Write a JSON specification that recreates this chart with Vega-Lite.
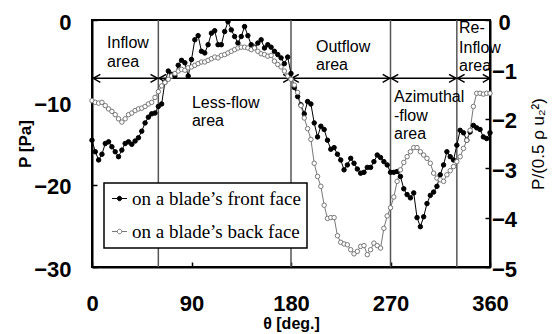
{
  "$schema": "https://vega.github.io/schema/vega-lite/v6.json",
  "width": 398,
  "height": 247,
  "autosize": {"type": "none"},
  "padding": {"left": 92, "top": 20, "right": 62, "bottom": 67},
  "config": {
    "font": "Liberation Sans",
    "view": {"stroke": "black", "strokeWidth": 2},
    "axis": {
      "grid": false,
      "domainColor": "black",
      "domainWidth": 2,
      "tickColor": "black",
      "tickWidth": 1.5,
      "tickSize": -5,
      "labelFont": "Liberation Sans",
      "labelFontSize": 22,
      "labelFontWeight": "bold",
      "labelColor": "black",
      "labelFlush": false,
      "labelOverlap": false,
      "titleColor": "black",
      "titleFont": "Liberation Sans"
    },
    "legend": {
      "orient": "none",
      "legendX": 12,
      "legendY": 163,
      "fillColor": "white",
      "strokeColor": "black",
      "strokeWidth": 1.5,
      "padding": 6,
      "labelFont": "Liberation Serif",
      "labelFontSize": 19,
      "labelColor": "black",
      "labelOffset": 3,
      "labelLimit": 400,
      "rowPadding": 13,
      "symbolSize": 225,
      "symbolStrokeWidth": 1
    }
  },
  "datasets": {
    "pressure": [
      {"theta": 0, "front": -14.6, "back": -9.8},
      {"theta": 3, "front": -16.0, "back": -10.0},
      {"theta": 6, "front": -17.0, "back": -10.1},
      {"theta": 9, "front": -16.3, "back": -10.0},
      {"theta": 12, "front": -15.0, "back": -10.4},
      {"theta": 15, "front": -14.8, "back": -10.8},
      {"theta": 18, "front": -15.4, "back": -11.1},
      {"theta": 21, "front": -16.0, "back": -11.5},
      {"theta": 24, "front": -16.6, "back": -12.0},
      {"theta": 27, "front": -15.8, "back": -12.4},
      {"theta": 30, "front": -15.0, "back": -12.0},
      {"theta": 33, "front": -14.8, "back": -11.5},
      {"theta": 36, "front": -15.1, "back": -11.3},
      {"theta": 39, "front": -14.7, "back": -11.0},
      {"theta": 42, "front": -14.3, "back": -10.8},
      {"theta": 45, "front": -13.5, "back": -10.7},
      {"theta": 48, "front": -12.5, "back": -10.5},
      {"theta": 51, "front": -11.8, "back": -10.2},
      {"theta": 54, "front": -11.4, "back": -10.0},
      {"theta": 57, "front": -11.3, "back": -9.4},
      {"theta": 60, "front": -10.5, "back": -8.7},
      {"theta": 63, "front": -10.2, "back": -8.0},
      {"theta": 66, "front": -7.5, "back": -7.6},
      {"theta": 69, "front": -6.2, "back": -7.2},
      {"theta": 72, "front": -6.6, "back": -6.8},
      {"theta": 75, "front": -6.8, "back": -6.5},
      {"theta": 78, "front": -5.5, "back": -6.2},
      {"theta": 81, "front": -4.9, "back": -6.0},
      {"theta": 84, "front": -5.2, "back": -6.1},
      {"theta": 87, "front": -6.8, "back": -5.8},
      {"theta": 90, "front": -4.8, "back": -5.7},
      {"theta": 93, "front": -2.4, "back": -5.5},
      {"theta": 96, "front": -1.9, "back": -5.3},
      {"theta": 99, "front": -3.8, "back": -5.1},
      {"theta": 102, "front": -4.0, "back": -5.1},
      {"theta": 105, "front": -3.0, "back": -4.9},
      {"theta": 108, "front": -1.6, "back": -4.7},
      {"theta": 111, "front": -1.3, "back": -4.5},
      {"theta": 114, "front": -3.0, "back": -4.6},
      {"theta": 117, "front": -3.0, "back": -4.3},
      {"theta": 120, "front": -1.4, "back": -4.2},
      {"theta": 123, "front": -0.2, "back": -4.0},
      {"theta": 126, "front": -1.2, "back": -3.8},
      {"theta": 129, "front": -2.0, "back": -3.6},
      {"theta": 132, "front": -2.8, "back": -3.4},
      {"theta": 135, "front": -2.0, "back": -3.3},
      {"theta": 138, "front": -0.8, "back": -3.3},
      {"theta": 141, "front": -1.9, "back": -3.4},
      {"theta": 144, "front": -3.0, "back": -3.6},
      {"theta": 147, "front": -3.3, "back": -3.4},
      {"theta": 150, "front": -2.8, "back": -3.8},
      {"theta": 153, "front": -2.4, "back": -4.1},
      {"theta": 156, "front": -3.4, "back": -4.2},
      {"theta": 159, "front": -3.0, "back": -4.4},
      {"theta": 162, "front": -3.3, "back": -4.3},
      {"theta": 165, "front": -3.8, "back": -5.0},
      {"theta": 168, "front": -4.2, "back": -5.4},
      {"theta": 171, "front": -4.6, "back": -5.7},
      {"theta": 174, "front": -5.3, "back": -6.2},
      {"theta": 177, "front": -4.5, "back": -6.8},
      {"theta": 180, "front": -6.5, "back": -7.2},
      {"theta": 183, "front": -8.2, "back": -7.9},
      {"theta": 186, "front": -9.3, "back": -8.8},
      {"theta": 189, "front": -10.3, "back": -10.4},
      {"theta": 192, "front": -11.4, "back": -11.9},
      {"theta": 195, "front": -9.9, "back": -13.2},
      {"theta": 198, "front": -10.2, "back": -14.5},
      {"theta": 201, "front": -12.5, "back": -17.4},
      {"theta": 204, "front": -14.2, "back": -19.0},
      {"theta": 207, "front": -12.9, "back": -20.2},
      {"theta": 210, "front": -13.3, "back": -22.5},
      {"theta": 213, "front": -14.6, "back": -24.1},
      {"theta": 216, "front": -15.7, "back": -24.0},
      {"theta": 219, "front": -15.5, "back": -24.0},
      {"theta": 222, "front": -16.3, "back": -26.2},
      {"theta": 225, "front": -17.0, "back": -27.0},
      {"theta": 228, "front": -18.2, "back": -27.2},
      {"theta": 231, "front": -17.6, "back": -27.3},
      {"theta": 234, "front": -16.8, "back": -27.9},
      {"theta": 237, "front": -17.4, "back": -28.4},
      {"theta": 240, "front": -18.1, "back": -28.1},
      {"theta": 243, "front": -18.6, "back": -27.5},
      {"theta": 246, "front": -18.5, "back": -27.4},
      {"theta": 249, "front": -17.9, "back": -28.5},
      {"theta": 252, "front": -17.9, "back": -27.9},
      {"theta": 255, "front": -17.2, "back": -27.1},
      {"theta": 258, "front": -16.4, "back": -27.4},
      {"theta": 261, "front": -16.7, "back": -27.7},
      {"theta": 264, "front": -17.2, "back": -25.3},
      {"theta": 267, "front": -17.6, "back": -23.8},
      {"theta": 270, "front": -18.5, "back": -22.8},
      {"theta": 273, "front": -18.5, "back": -21.5},
      {"theta": 276, "front": -18.4, "back": -19.6},
      {"theta": 279, "front": -19.0, "back": -18.2},
      {"theta": 282, "front": -20.5, "back": -17.3},
      {"theta": 285, "front": -21.2, "back": -16.6},
      {"theta": 288, "front": -21.6, "back": -16.0},
      {"theta": 291, "front": -21.0, "back": -15.5},
      {"theta": 294, "front": -24.0, "back": -15.5},
      {"theta": 297, "front": -25.1, "back": -16.0},
      {"theta": 300, "front": -23.9, "back": -16.4},
      {"theta": 303, "front": -22.3, "back": -16.8},
      {"theta": 306, "front": -21.3, "back": -17.4},
      {"theta": 309, "front": -20.9, "back": -18.6},
      {"theta": 312, "front": -20.2, "back": -19.2},
      {"theta": 315, "front": -18.8, "back": -19.4},
      {"theta": 318, "front": -17.6, "back": -19.6},
      {"theta": 321, "front": -16.0, "back": -18.8},
      {"theta": 324, "front": -16.6, "back": -18.3},
      {"theta": 327, "front": -17.0, "back": -17.8},
      {"theta": 330, "front": -15.2, "back": -17.2},
      {"theta": 333, "front": -13.4, "back": -16.6},
      {"theta": 336, "front": -13.7, "back": -15.6},
      {"theta": 339, "front": -14.6, "back": -14.6},
      {"theta": 342, "front": -13.6, "back": -13.4},
      {"theta": 345, "front": -12.8, "back": -10.5},
      {"theta": 348, "front": -13.1, "back": -8.9},
      {"theta": 351, "front": -13.3, "back": -8.9},
      {"theta": 354, "front": -14.2, "back": -9.0},
      {"theta": 357, "front": -14.4, "back": -8.9},
      {"theta": 360, "front": -13.7, "back": -8.9}
    ],
    "boundaries": [
      {"theta": 60}, {"theta": 180}, {"theta": 270}, {"theta": 330}
    ],
    "spans": [
      {"theta": 1.2, "theta2": 59.3, "P": -7.09},
      {"theta": 60.7, "theta2": 179.3, "P": -7.09},
      {"theta": 180.7, "theta2": 269.3, "P": -7.09},
      {"theta": 270.7, "theta2": 329.3, "P": -7.09},
      {"theta": 330.7, "theta2": 359.8, "P": -7.09}
    ],
    "heads": [
      {"theta": 1.2, "P": -7.09, "dir": "L"},
      {"theta": 59.3, "P": -7.09, "dir": "R"},
      {"theta": 60.7, "P": -7.09, "dir": "L"},
      {"theta": 179.3, "P": -7.09, "dir": "R"},
      {"theta": 180.7, "P": -7.09, "dir": "L"},
      {"theta": 269.3, "P": -7.09, "dir": "R"},
      {"theta": 270.7, "P": -7.09, "dir": "L"},
      {"theta": 329.3, "P": -7.09, "dir": "R"},
      {"theta": 330.7, "P": -7.09, "dir": "L"},
      {"theta": 359.8, "P": -7.09, "dir": "R"}
    ],
    "regions": [
      {"theta": 13.6, "P": -3.4, "t": "Inflow"},
      {"theta": 13.6, "P": -5.71, "t": "area"},
      {"theta": 90.4, "P": -10.7, "t": "Less-flow"},
      {"theta": 90.4, "P": -12.9, "t": "area"},
      {"theta": 202.6, "P": -3.85, "t": "Outflow"},
      {"theta": 202.6, "P": -6.07, "t": "area"},
      {"theta": 273.2, "P": -9.92, "t": "Azimuthal"},
      {"theta": 273.2, "P": -12.23, "t": "-flow"},
      {"theta": 273.2, "P": -14.49, "t": "area"},
      {"theta": 332.0, "P": -1.62, "t": "Re-"},
      {"theta": 332.0, "P": -3.97, "t": "Inflow"},
      {"theta": 332.0, "P": -6.19, "t": "area"}
    ]
  },
  "layer": [
    {
      "layer": [
        {
          "data": {"name": "boundaries"},
          "mark": {"type": "rule", "color": "#555555", "strokeWidth": 1.5},
          "encoding": {
            "x": {"field": "theta", "type": "quantitative", "scale": {"domain": [0, 360], "nice": false},
                  "axis": {"values": [0, 90, 180, 270, 360], "labelPadding": 31, "title": "θ [deg.]", "titleFontSize": 16, "titleFontWeight": "bold", "titleY": 61, "titleBaseline": "alphabetic"}}
          }
        },
        {
          "data": {"name": "spans"},
          "mark": {"type": "rule", "color": "black", "strokeWidth": 1.5},
          "encoding": {
            "x": {"field": "theta", "type": "quantitative"},
            "x2": {"field": "theta2"},
            "y": {"field": "P", "type": "quantitative", "scale": {"domain": [-30, 0], "nice": false},
                  "axis": {"values": [-30, -20, -10, 0], "labelPadding": 26, "labelOffset": 2, "title": "P [Pa]", "titleFontSize": 17, "titleFontWeight": "bold", "titleAngle": 270, "titleX": -62, "titleBaseline": "alphabetic"}}
          }
        },
        {
          "data": {"name": "heads"},
          "mark": {"type": "point", "filled": false, "size": 49, "strokeWidth": 1.5, "color": "black", "opacity": 1},
          "encoding": {
            "x": {"field": "theta", "type": "quantitative"},
            "y": {"field": "P", "type": "quantitative"},
            "shape": {"field": "dir", "type": "nominal", "legend": null,
                      "scale": {"domain": ["L", "R"], "range": ["M2,-1.15L0,0L2,1.15", "M-2,-1.15L0,0L-2,1.15"]}}
          }
        },
        {
          "data": {"name": "regions"},
          "mark": {"type": "text", "align": "left", "baseline": "alphabetic", "font": "Liberation Sans", "fontSize": 16, "color": "black"},
          "encoding": {
            "x": {"field": "theta", "type": "quantitative"},
            "y": {"field": "P", "type": "quantitative"},
            "text": {"field": "t"}
          }
        },
        {
          "data": {"name": "pressure"},
          "transform": [{"fold": ["front", "back"], "as": ["face", "P"]}],
          "mark": {"type": "line", "strokeWidth": 1},
          "encoding": {
            "x": {"field": "theta", "type": "quantitative"},
            "y": {"field": "P", "type": "quantitative"},
            "stroke": {"field": "face", "type": "nominal",
                       "scale": {"domain": ["front", "back"], "range": ["black", "#777777"]},
                       "legend": {"title": null, "symbolType": "M-1,0L-0.3,0M0.3,0L1,0M-0.3,0A0.3,0.3 0 1,0 0.3,0A0.3,0.3 0 1,0 -0.3,0",
                                  "labelExpr": "datum.value == 'front' ? 'on a blade’s front face\u00a0' : 'on a blade’s back face\u00a0'"}}
          }
        },
        {
          "data": {"name": "pressure"},
          "transform": [{"fold": ["front", "back"], "as": ["face", "P"]}],
          "mark": {"type": "point", "filled": true, "size": 20, "strokeWidth": 1, "opacity": 1},
          "encoding": {
            "x": {"field": "theta", "type": "quantitative"},
            "y": {"field": "P", "type": "quantitative"},
            "fill": {"field": "face", "type": "nominal",
                     "scale": {"domain": ["front", "back"], "range": ["black", "white"]},
                     "legend": {"title": null, "symbolType": "M-1,0L-0.3,0M0.3,0L1,0M-0.3,0A0.3,0.3 0 1,0 0.3,0A0.3,0.3 0 1,0 -0.3,0",
                                "labelExpr": "datum.value == 'front' ? 'on a blade’s front face\u00a0' : 'on a blade’s back face\u00a0'"}},
            "stroke": {"field": "face", "type": "nominal",
                       "scale": {"domain": ["front", "back"], "range": ["black", "#666666"]}}
          }
        }
      ]
    },
    {
      "data": {"values": [{"r": 0}, {"r": -5}]},
      "mark": {"type": "point", "opacity": 0},
      "encoding": {
        "y": {"field": "r", "type": "quantitative", "scale": {"domain": [-5, 0], "nice": false},
              "axis": {"orient": "right", "values": [-5, -4, -3, -2, -1, 0], "labelAlign": "center", "labelPadding": 19, "labelOffset": 2,
                       "title": "P/(0.5 ρ u₂²)", "titleFontSize": 17, "titleFontWeight": "normal", "titleAngle": 270, "titleX": 53, "titleBaseline": "alphabetic"}}
      }
    }
  ],
  "resolve": {"scale": {"y": "independent"}}
}
